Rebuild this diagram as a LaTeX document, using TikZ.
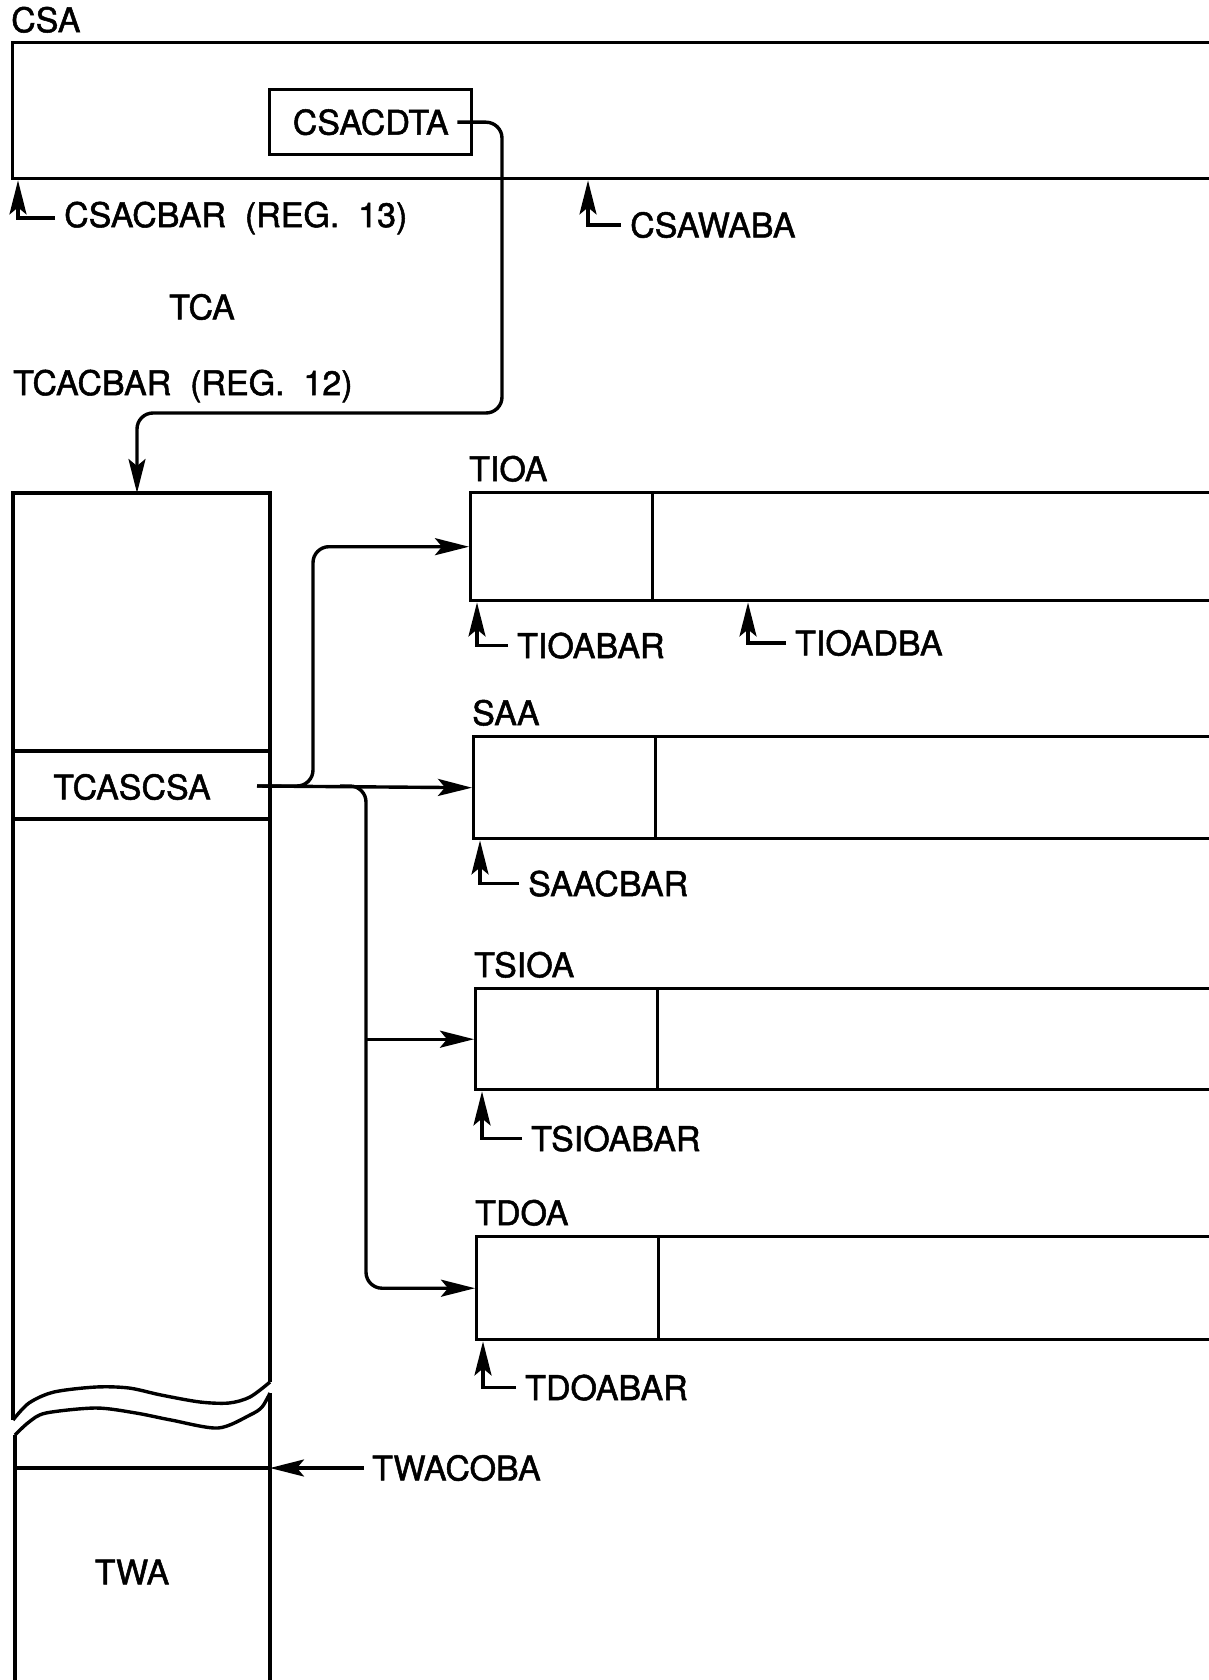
\documentclass[tikz,border=0pt]{standalone}
\usepackage{fontspec}
\setmainfont{TeX Gyre Heros}[RawFeature={embolden=1.5}]
\usetikzlibrary{calc,positioning,arrows.meta}
\tikzset{
  blk/.style={draw=black,line width=3.4pt,inner sep=0pt},
  lbl/.style={inner sep=0pt,font=\fontsize{34}{40}\selectfont},
  wall/.style={line width=3.4pt,black},
  ptr/.style={-{Stealth[length=34pt,width=17pt,inset=7pt]},line width=3.4pt,black},
}

\begin{document}
\begin{tikzpicture}[x=1pt,y=-1pt]
  \useasboundingbox (0,0) rectangle (1208,1680);

  % CSA
  \node[blk,minimum width=1230,minimum height=136,anchor=north west] (csa) at (11,41) {};
  \node[lbl,above right=8pt and 0pt of csa.north west] (csa-l) {CSA};
  \node[blk,lbl,minimum width=202,minimum height=65,anchor=north west] (csacdta) at (268,88) {CSACDTA};
  \node[lbl,anchor=west] (csacbar) at (64,218) {CSACBAR\ \ (REG.\ \ 13)};
  \draw[ptr] ([xshift=-9pt]csacbar.west) -| ([xshift=7pt]csa.south west);
  \node[lbl,anchor=west] (csawaba) at (630,225) {CSAWABA};
  \draw[ptr] ([xshift=-9pt]csawaba.west) -| ([xshift=577pt]csa.south west);

  \node[lbl] (tca-l) at (202,307) {TCA};
  \node[lbl,anchor=west] (tcacbar) at (13,386) {TCACBAR\ \ (REG.\ \ 12)};

  % TCA column with break
  \coordinate (tca-nw) at (13,493);
  \coordinate (tca-ne) at (270,493);
  \coordinate (tca-top) at (137,493);
  \draw[wall] (13,1420) -- (tca-nw) -- (tca-ne) -- (270,1382);
  \draw[wall] plot[smooth] coordinates {(13,1420)(29,1403)(54,1392)(96,1387)(129,1388)(161,1395)(200,1402)(229,1403)(250,1397)(270,1382)};
  \draw[wall] plot[smooth] coordinates {(15,1435)(29,1422)(46,1413)(96,1408)(136,1413)(171,1420)(218,1428)(250,1415)(262,1407)(270,1393)};
  \draw[wall] (15,1435) -- (15,1700);
  \draw[wall] (270,1393) -- (270,1700);
  \draw[wall] (13,751) -- (270,751);
  \draw[wall] (13,819) -- (270,819);
  \node[lbl] (tcascsa) at (132,787) {TCASCSA};
  \coordinate (tcascsa-o) at (257,786);
  \draw[wall] (15,1468) -- (270,1468) coordinate (twa-r);
  \node[lbl] (twa) at (132,1572) {TWA};
  \node[lbl,anchor=west] (twacoba) at (372,1468) {TWACOBA};
  \draw[ptr] ([xshift=-8pt]twacoba.west) -- (twa-r);

  \coordinate (hop) at (502,413);
  \draw[ptr,rounded corners=16pt] ([xshift=-16pt]csacdta.east) -| (hop) -| (tca-top);

  % records
  \foreach \nm/\txt/\bx/\by/\bh/\bar/\dx/\dy in {
      tioa/TIOA/469/491/108/TIOABAR/48/30,
      saa/SAA/472/735/102/SAACBAR/56/30,
      tsioa/TSIOA/474/987/101/TSIOABAR/57/34,
      tdoa/TDOA/475/1235/103/TDOABAR/50/33}{
    \node[blk,minimum width=800,minimum height=\bh,anchor=north west] (\nm) at (\bx,\by) {};
    \node[blk,minimum width=182,minimum height=\bh,anchor=north west] (\nm-c) at (\bx,\by) {};
    \node[lbl,above right=9pt and 0pt of \nm.north west] (\nm-l) {\txt};
    \node[lbl,below right=\dy pt and \dx pt of \nm.south west] (\nm-b) {\bar};
    \draw[ptr] ([xshift=-9pt]\nm-b.west) -| ([xshift=8pt]\nm.south west);
  }
  \node[lbl,anchor=west] (tioadba) at (795,643) {TIOADBA};
  \draw[ptr] ([xshift=-9pt]tioadba.west) -| ([xshift=279pt]tioa.south west);

  % TCASCSA pointers
  \coordinate (fork) at (340,786);
  \draw[ptr,rounded corners=16pt] (tcascsa-o) -| ([xshift=-156pt]tioa-c.west) -- (tioa-c.west);
  \draw[ptr] (tcascsa-o) -- (saa-c.west);
  \draw[ptr,rounded corners=16pt] (fork) -| ([xshift=-109pt]tdoa-c.west) -- (tdoa-c.west);
  \draw[ptr] ([xshift=-108pt]tsioa-c.west) -- (tsioa-c.west);
\end{tikzpicture}
\end{document}
